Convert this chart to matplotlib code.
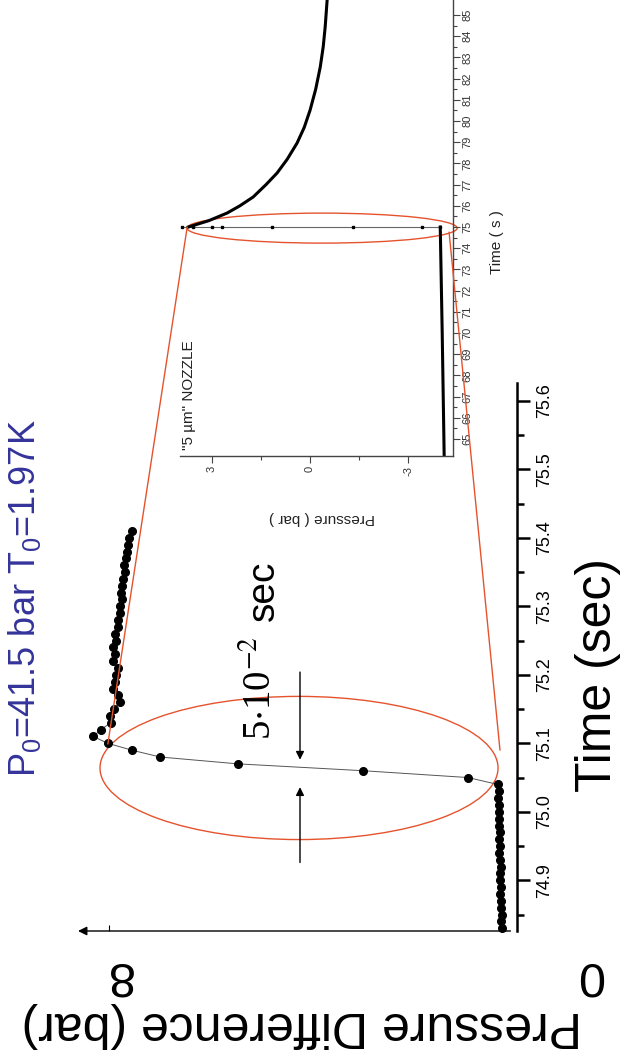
import matplotlib
matplotlib.use("Agg")
import matplotlib.pyplot as plt
from matplotlib.patches import Ellipse, ConnectionPatch

plt.rcParams['font.family'] = ['Liberation Sans', 'DejaVu Sans']
plt.rcParams['mathtext.fontset'] = 'custom'
plt.rcParams['mathtext.rm'] = 'Liberation Sans'
plt.rcParams['mathtext.it'] = 'Liberation Sans:italic'

# donnees principales (temps en s, pression en bar)
t_avant = [74.83, 74.84, 74.85, 74.86, 74.87, 74.88, 74.89, 74.90, 74.91, 74.92, 74.93,
           74.94, 74.95, 74.96, 74.97, 74.98, 74.99, 75.00, 75.01, 75.02, 75.03, 75.04]
p_avant = [-0.05, -0.03, -0.04, -0.02, -0.03, -0.01, -0.03, -0.01, 0.0, -0.02, 0.0,
           0.01, -0.01, 0.01, 0.0, 0.02, 0.01, 0.03, 0.02, 0.04, 0.03, 0.05]
t_montee = [75.05, 75.06, 75.07, 75.08, 75.09, 75.10, 75.11, 75.12]
p_montee = [0.65, 2.8, 5.36, 6.95, 7.53, 8.02, 8.32, 8.16]
t_apres = [75.13, 75.14, 75.15, 75.16, 75.17, 75.18, 75.19, 75.20, 75.21, 75.22,
           75.23, 75.24, 75.25, 75.26, 75.27, 75.28, 75.29, 75.30, 75.31, 75.32,
           75.33, 75.34, 75.35, 75.36, 75.37, 75.38, 75.39, 75.40, 75.41]
p_apres = [7.96, 7.98, 7.90, 7.78, 7.82, 7.92, 7.88, 7.86, 7.82, 7.92,
           7.88, 7.91, 7.85, 7.87, 7.81, 7.82, 7.77, 7.78, 7.74, 7.75,
           7.72, 7.70, 7.67, 7.68, 7.64, 7.63, 7.60, 7.58, 7.53]

# encart : mesure longue
t_base = [64.2, 70.0, 75.0]
p_base = [-4.1, -4.04, -3.98]
p_saut = [-3.98, -3.43, -1.31, 1.16, 2.69, 3.0, 3.58, 3.91]
t_saut = [75.0, 75.0, 75.0, 75.0, 75.0, 75.0, 75.0, 75.0]
t_decr = [75.0, 75.3, 75.66, 76.0, 76.42, 77.0, 77.55, 78.2, 78.96, 79.7,
          80.52, 81.5, 82.55, 83.5, 84.43, 85.7]
p_decr = [3.73, 3.1, 2.54, 2.15, 1.74, 1.35, 1.01, 0.70, 0.40, 0.18,
          0.0, -0.17, -0.31, -0.40, -0.46, -0.52]

ticks_t = [74.9, 75.0, 75.1, 75.2, 75.3, 75.4, 75.5, 75.6]
ticks_t_min = [74.85, 74.95, 75.05, 75.15, 75.25, 75.35, 75.45, 75.55]
ticks_in_t = list(range(65, 86))
ticks_in_p = [-3, 0, 3]

rouge = '#e5532d'
W, H = 624, 1058
fig = plt.figure(figsize=(W / 100, H / 100), dpi=100)


def boite(x0, y0, x1, y1):
    return [x0 / W, 1 - y1 / H, (x1 - x0) / W, (y1 - y0) / H]


# graphique principal (tourne de 90 degres)
ax = fig.add_axes(boite(78, 383, 517, 931))
ax.set_xlim(8.63, -0.348)
ax.set_ylim(74.826, 75.626)
for s in ['top', 'left', 'bottom']:
    ax.spines[s].set_visible(False)
ax.spines['right'].set_linewidth(1.8)
ax.yaxis.tick_right()
ax.set_yticks(ticks_t)
ax.set_yticks(ticks_t_min, minor=True)
ax.set_yticklabels([f"{v:.1f}" for v in ticks_t], rotation=90, va='center', fontsize=13)
ax.tick_params(axis='y', which='major', direction='out', length=9, width=1.8, pad=5)
ax.tick_params(axis='y', which='minor', direction='out', length=5, width=1.8)
ax.set_xticks([8])
ax.tick_params(axis='x', direction='in', length=4, width=0.8, labelbottom=False)
ax.annotate('', xy=(0, 0), xytext=(0.985, 0), xycoords='axes fraction',
            arrowprops=dict(arrowstyle='-|>', lw=1, color='black', mutation_scale=13,
                            shrinkA=0, shrinkB=0))

t_tout = t_avant + t_montee + t_apres
p_tout = p_avant + p_montee + p_apres
ax.plot(p_tout, t_tout, '-', color='#555555', lw=0.7, marker='o', ms=5.5,
        mfc='black', mec='black', clip_on=False)

ax.add_patch(Ellipse((4.11, 75.064), width=8.14, height=0.209, fill=False, ec=rouge, lw=1))
ax.annotate('', xy=(4.09, 75.076), xytext=(4.09, 75.204),
            arrowprops=dict(arrowstyle='-|>', lw=1, color='black', mutation_scale=12,
                            shrinkA=0, shrinkB=0))
ax.annotate('', xy=(4.09, 75.036), xytext=(4.09, 74.926),
            arrowprops=dict(arrowstyle='-|>', lw=1, color='black', mutation_scale=12,
                            shrinkA=0, shrinkB=0))
ax.text(4.87, 75.18, r"5$\cdot$10$^{-2}$", rotation=90, ha='center', va='center',
        fontsize=28, family='Liberation Serif', math_fontfamily='stix')
ax.text(4.82, 75.322, "sec", rotation=90, ha='center', va='center', fontsize=28)

# textes du graphique principal
fig.text(598 / W, 1 - 675 / H, "Time (sec)", rotation=90, ha='center', va='center', fontsize=36)
fig.text(302 / W, 1 - 1025 / H, "Pressure Difference (bar)", rotation=180,
         ha='center', va='center', fontsize=36)
fig.text(118 / W, 1 - 974 / H, "8", rotation=180, ha='center', va='center', fontsize=35)
fig.text(590 / W, 1 - 974 / H, "0", rotation=180, ha='center', va='center', fontsize=35)
fig.text(25 / W, 1 - 598 / H, r"P$_0$=41.5 bar T$_0$=1.97K", rotation=90,
         ha='center', va='center', fontsize=26, color='#33339a')

# encart
ax_in = fig.add_axes(boite(180, 0, 453, 456))
ax_in.set_facecolor('none')
ax_in.set_xlim(3.98, -4.37)
ax_in.set_ylim(64.2, 85.71)
for s in ['top', 'left']:
    ax_in.spines[s].set_visible(False)
for s in ['right', 'bottom']:
    ax_in.spines[s].set_color('#444444')
    ax_in.spines[s].set_linewidth(1.0)
ax_in.yaxis.tick_right()
ax_in.set_yticks(ticks_in_t)
ax_in.set_yticks([v + 0.5 for v in ticks_in_t[:-1]], minor=True)
ax_in.set_yticklabels([str(v) for v in ticks_in_t], rotation=90, va='center',
                      fontsize=8, color='#333333')
ax_in.set_xticks(ticks_in_p)
ax_in.set_xticks([-1.5, 1.5], minor=True)
ax_in.set_xticklabels([str(v) for v in ticks_in_p], rotation=90, fontsize=8, color='#333333')
ax_in.tick_params(which='major', direction='out', length=5, width=0.8, color='#444444', pad=2)
ax_in.tick_params(which='minor', direction='out', length=3, width=0.8, color='#444444')

ax_in.plot(p_base, t_base, '-', color='black', lw=2.2)
ax_in.plot(p_saut, t_saut, '-', color='#666666', lw=0.8, marker='s', ms=1.5,
           mfc='black', mec='black')
ax_in.plot(p_decr, t_decr, '-', color='black', lw=2.2)
ax_in.add_patch(Ellipse((-0.367, 74.95), width=8.26, height=1.415, fill=False, ec=rouge,
                        lw=1, clip_on=False))

fig.text(497 / W, 1 - 242 / H, "Time ( s )", rotation=90, ha='center', va='center',
         fontsize=11, color='#222222')
fig.text(322 / W, 1 - 518 / H, "Pressure ( bar )", rotation=180, ha='center', va='center',
         fontsize=11, color='#222222')
fig.text(189 / W, 1 - 395 / H, "\"5 \u00b5m\" NOZZLE", rotation=90, ha='center',
         va='center', fontsize=11, color='#222222')

# lignes de zoom entre encart et graphique
for pa, ta, pb, tb in [(3.76, 75.0, 8.02, 75.099), (-4.25, 74.76, 0.0, 75.09)]:
    con = ConnectionPatch(xyA=(pa, ta), coordsA=ax_in.transData,
                          xyB=(pb, tb), coordsB=ax.transData, color=rouge, lw=1)
    fig.add_artist(con)

fig.savefig("out.png", dpi=100)
